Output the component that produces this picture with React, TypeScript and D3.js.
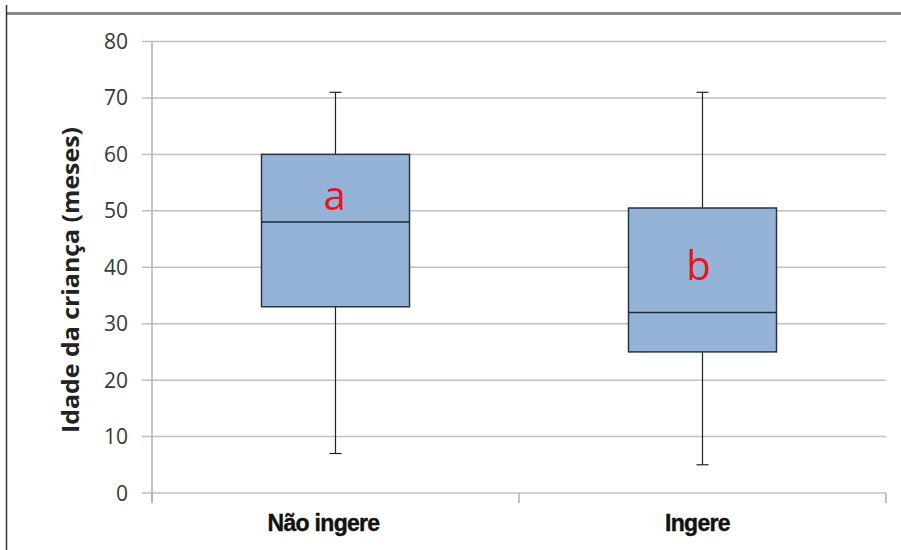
import React, { useEffect, useRef } from 'react';
import * as d3 from "d3";

const categories = ['Não ingere', 'Ingere'];
const whiskerLow = [7, 5];
const q1 = [33, 25];
const median = [48, 32];
const q3 = [60, 50.5];
const whiskerHigh = [71, 71];
const groupLetters = ['a', 'b'];
const letterValues = [52.6, 40.2];
const yTicks = [0, 10, 20, 30, 40, 50, 60, 70, 80];

function App() {
	const svgRef = useRef(null);

	useEffect(() => {
		const w = 901;
		const h = 550;
		const left = 152, right = 886, top = 41.5, bottom = 493;

		const svg = d3.select(svgRef.current)
			.attr('width', w)
			.attr('height', h);
		svg.selectAll('*').remove();

		svg.append('rect').attr('width', w).attr('height', h).attr('fill', '#fff');

		// frame of the screenshot
		svg.append('line')
			.attr('x1', 7).attr('x2', w).attr('y1', 13.5).attr('y2', 13.5)
			.attr('stroke', '#8a8a8a').attr('stroke-width', 3);
		svg.append('line')
			.attr('x1', 6.5).attr('x2', 6.5).attr('y1', 5).attr('y2', h)
			.attr('stroke', '#333').attr('stroke-width', 1.5);

		const y = d3.scaleLinear().domain([0, 80]).range([bottom, top]);
		const x = d3.scaleBand().domain(categories).range([left, right]);

		// gridlines
		svg.append('g')
			.selectAll('line')
			.data(yTicks)
			.join('line')
			.attr('x1', left - 10)
			.attr('x2', right)
			.attr('y1', d => y(d))
			.attr('y2', d => y(d))
			.attr('stroke', '#c0c0c0')
			.attr('stroke-width', 1.5);

		// y axis line
		svg.append('line')
			.attr('x1', left).attr('x2', left).attr('y1', top).attr('y2', bottom + 10)
			.attr('stroke', '#b0b0b0').attr('stroke-width', 1.5);

		// x ticks
		const xTickPos = [left, ...categories.map(c => (x(c) as number) + x.bandwidth())];
		svg.append('g')
			.selectAll('line')
			.data(xTickPos)
			.join('line')
			.attr('x1', d => d).attr('x2', d => d)
			.attr('y1', bottom).attr('y2', bottom + 10)
			.attr('stroke', '#b0b0b0').attr('stroke-width', 1.5);

		svg.append('g')
			.selectAll('text')
			.data(yTicks)
			.join('text')
			.attr('x', 128)
			.attr('y', d => y(d))
			.attr('dy', '0.36em')
			.attr('text-anchor', 'end')
			.attr('font-family', 'Open Sans')
			.attr('font-size', 21)
			.attr('fill', '#383838')
			.text(d => d);

		svg.append('g')
			.selectAll('text')
			.data(categories)
			.join('text')
			.attr('x', (d, i) => (x(d) as number) + x.bandwidth() / 2 - (i === 0 ? 12 : 5))
			.attr('y', 531)
			.attr('text-anchor', 'middle')
			.attr('font-family', 'Liberation Sans')
			.attr('font-weight', 'bold')
			.attr('font-size', 23)
			.attr('letter-spacing', -0.7)
			.attr('stroke', '#111')
			.attr('stroke-width', 0.4)
			.attr('fill', '#111')
			.text(d => d);

		svg.append('text')
			.attr('transform', `translate(79,280) rotate(-90)`)
			.attr('text-anchor', 'middle')
			.attr('font-family', 'Open Sans')
			.attr('font-weight', 'bold')
			.attr('font-size', 23)
			.attr('textLength', 306)
			.attr('lengthAdjust', 'spacingAndGlyphs')
			.attr('fill', '#222')
			.text('Idade da criança (meses)');

		const boxW = 148;
		const capW = 12;
		const g = svg.append('g')
			.selectAll('g')
			.data(categories)
			.join('g');

		const cx = (d: string) => (x(d) as number) + x.bandwidth() / 2;

		g.append('line')
			.attr('x1', d => cx(d)).attr('x2', d => cx(d))
			.attr('y1', (d, i) => y(whiskerHigh[i])).attr('y2', (d, i) => y(whiskerLow[i]))
			.attr('stroke', '#222').attr('stroke-width', 1.2);
		g.append('line')
			.attr('x1', d => cx(d) - capW / 2).attr('x2', d => cx(d) + capW / 2)
			.attr('y1', (d, i) => y(whiskerHigh[i])).attr('y2', (d, i) => y(whiskerHigh[i]))
			.attr('stroke', '#222').attr('stroke-width', 1.2);
		g.append('line')
			.attr('x1', d => cx(d) - capW / 2).attr('x2', d => cx(d) + capW / 2)
			.attr('y1', (d, i) => y(whiskerLow[i])).attr('y2', (d, i) => y(whiskerLow[i]))
			.attr('stroke', '#222').attr('stroke-width', 1.2);

		g.append('rect')
			.attr('x', d => cx(d) - boxW / 2)
			.attr('width', boxW)
			.attr('y', (d, i) => y(q3[i]))
			.attr('height', (d, i) => y(q1[i]) - y(q3[i]))
			.attr('fill', '#95b3d7')
			.attr('stroke', '#2a3440')
			.attr('stroke-width', 1.5);

		g.append('line')
			.attr('x1', d => cx(d) - boxW / 2).attr('x2', d => cx(d) + boxW / 2)
			.attr('y1', (d, i) => y(median[i])).attr('y2', (d, i) => y(median[i]))
			.attr('stroke', '#1e2a38').attr('stroke-width', 1.5);

		g.append('text')
			.attr('x', (d, i) => cx(d) - (i === 0 ? 1 : 4))
			.attr('y', (d, i) => y(letterValues[i]))
			.attr('dy', '0.35em')
			.attr('text-anchor', 'middle')
			.attr('font-family', 'Open Sans')
			.attr('font-size', 40)
			.attr('fill', '#e8141c')
			.text((d, i) => groupLetters[i]);
	}, []);

	return (
		<div style={{ position: 'absolute', left: 0, top: 0 }}>
			<svg ref={svgRef} style={{ display: 'block' }} />
		</div>
	)
}

export default App;
